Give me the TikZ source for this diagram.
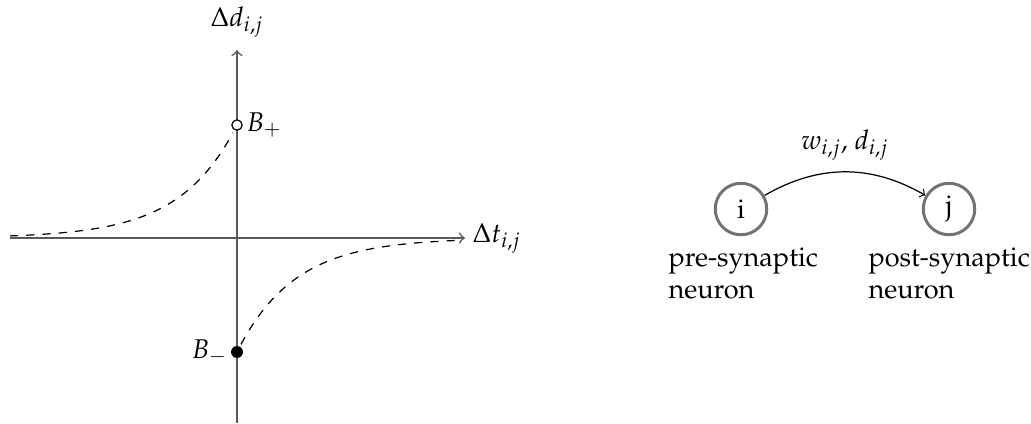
\documentclass[tikz,border=0pt]{standalone}
\usepackage[T1]{fontenc}
\usepackage{mathpazo}
\tikzset{
  axis/.style={draw=black!65, line width=0.6pt, ->},
  curve/.style={dashed, line width=0.45pt, black},
  neuron/.style={circle, draw=black!55, line width=1.1pt, minimum size=19pt, inner sep=0pt, font=\normalsize},
  caption/.style={align=left, anchor=north west, inner sep=0pt, font=\normalsize},
  syn/.style={->, line width=0.45pt, black}
}
\begin{document}
\begin{tikzpicture}[x=0.369pt, y=-0.369pt]
\useasboundingbox (0,0) rectangle (1031,423);
% axes
\coordinate (xl) at (10,238);
\coordinate (xr) at (465,238);
\coordinate (yb) at (237,423);
\coordinate (yt) at (237,50);
\draw[axis] (xl) -- (xr);
\draw[axis] (yb) -- (yt);
\node (dd) at (237,22) {$\Delta d_{i,j}$};
\node[anchor=west, inner sep=0pt] (dt) at (472,238) {$\Delta t_{i,j}$};
% curves
\draw[curve] plot[domain=10:233, samples=80] (\x, {238-113*exp((\x-237)/57)});
\draw[curve] plot[domain=241:462, samples=80] (\x, {238+114*exp(-(\x-237)/57)});
% end points
\node[circle, draw=black, fill=white, line width=0.45pt, minimum size=3.8pt, inner sep=0pt] (bp) at (237,125) {};
\node[circle, fill=black, minimum size=4.4pt, inner sep=0pt] (bm) at (237,352) {};
\node[anchor=west, inner sep=0pt] (bpl) at (246,125) {$B_+$};
\node[anchor=east, inner sep=0pt] (bml) at (228,352) {$B_-$};
% synapse
\node[neuron] (i) at (741,209) {i};
\node[neuron] (j) at (949,209) {j};
\draw[syn] (i) to[bend left=30] node[above, inner sep=4pt] (w) {$w_{i,j}$, $d_{i,j}$} (j);
\node[caption] (pre) at (668,247) {pre-synaptic\\neuron};
\node[caption] (post) at (868,247) {post-synaptic\\neuron};
\end{tikzpicture}
\end{document}
